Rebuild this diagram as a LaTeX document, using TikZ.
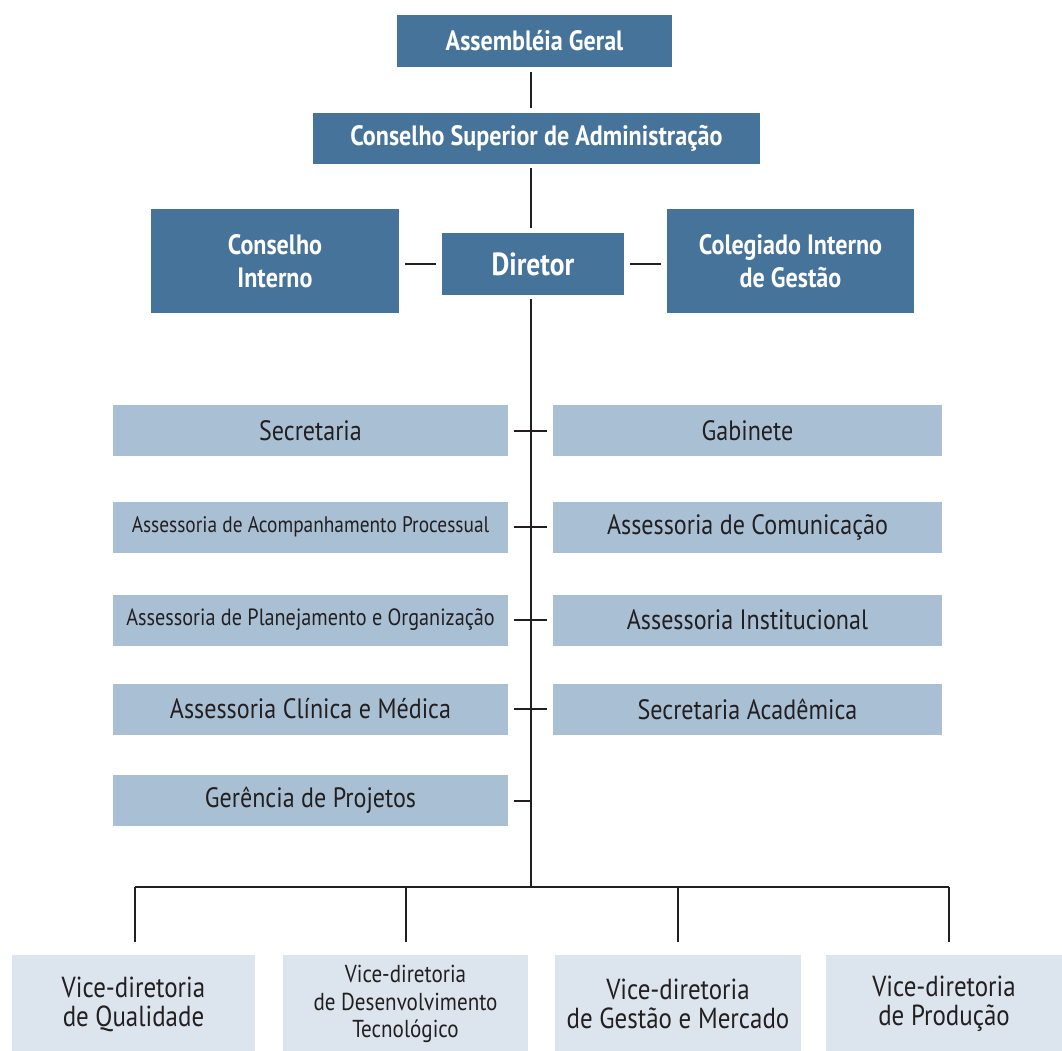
\documentclass[tikz,border=0pt]{standalone}
\usepackage{fontspec}
\setmainfont{PT Sans}[FakeStretch=0.86]
\usetikzlibrary{positioning}

\definecolor{darkbox}{HTML}{46739A}
\definecolor{lightbox}{HTML}{A9C0D4}
\definecolor{palebox}{HTML}{DCE5EE}
\definecolor{ink}{HTML}{231F20}

\tikzset{
  headbox/.style={fill=darkbox, text=white, inner sep=0pt, align=center,
    font=\fontsize{28}{33}\selectfont\bfseries},
  staffbox/.style={fill=lightbox, text=ink, inner sep=0pt, minimum height=51pt,
    font=\fontsize{28}{32}\selectfont},
  vicebox/.style={fill=palebox, text=ink, inner sep=0pt, align=center,
    minimum height=98pt, font=\fontsize{29}{29}\selectfont},
  link/.style={draw=ink, line width=2pt}
}

\begin{document}
\begin{tikzpicture}[x=1pt,y=-1pt]
    \useasboundingbox[fill=white] (0,0) rectangle (1062,1051);

    % top of the chart
    \node[headbox, minimum width=275pt, minimum height=52pt] (ag) at (534.5,41) {Assembléia Geral};
    \node[headbox, minimum width=447pt, minimum height=51pt] (csa) at (536.5,138.5) {Conselho Superior de Administração};
    \node[headbox, minimum width=182pt, minimum height=62pt, font=\fontsize{32}{36}\selectfont\bfseries] (dir) at (533,264) {Diretor};
    \node[headbox, minimum width=248pt, minimum height=104pt] (ci) at (275,261) {Conselho\\Interno};
    \node[headbox, minimum width=247pt, minimum height=104pt] (cig) at (790.5,261) {Colegiado Interno\\de Gestão};

    \coordinate (bus) at (531,887);

    % staff, left column
    \node[staffbox, minimum width=395pt] (sec) at (310.5,430.5) {Secretaria};
    \node[staffbox, minimum width=395pt, font=\fontsize{22.5}{26}\selectfont] (aap) at (310.5,527) {Assessoria de Acompanhamento Processual};
    \node[staffbox, minimum width=395pt, font=\fontsize{23.5}{26}\selectfont] (apo) at (310.5,620) {Assessoria de Planejamento e Organização};
    \node[staffbox, minimum width=395pt] (acm) at (310.5,709) {Assessoria Clínica e Médica};
    \node[staffbox, minimum width=395pt] (gp) at (310.5,800.5) {Gerência de Projetos};

    % staff, right column
    \node[staffbox, minimum width=389pt] (gab) at (747.5,430.5) {Gabinete};
    \node[staffbox, minimum width=389pt] (acom) at (747.5,527) {Assessoria de Comunicação};
    \node[staffbox, minimum width=389pt] (ai) at (747.5,620) {Assessoria Institucional};
    \node[staffbox, minimum width=389pt] (sa) at (747.5,709) {Secretaria Acadêmica};

    % vice-diretorias
    \node[vicebox, minimum width=243pt] (vq) at (133.5,1004) {Vice-diretoria\\de Qualidade};
    \node[vicebox, minimum width=245pt, font=\fontsize{24.5}{27.5}\selectfont] (vdt) at (405.5,1004) {Vice-diretoria\\de Desenvolvimento\\Tecnológico};
    \node[vicebox, minimum width=246pt] (vgm) at (678,1004) {Vice-diretoria\\de Gestão e Mercado};
    \node[vicebox, minimum width=236pt] (vp) at (944,1004) {Vice-diretoria\\de Produção};

    % connectors
    \draw[link] ([yshift=-5pt]ag.south -| bus) -- ([yshift=5pt]csa.north -| bus);
    \draw[link] ([yshift=-4pt]csa.south -| bus) -- ([yshift=5pt]dir.north -| bus);
    \draw[link] ([xshift=6pt]ci.east |- dir.west) -- ([xshift=-6pt]dir.west);
    \draw[link] ([xshift=6pt]dir.east) -- ([xshift=-6pt]cig.west |- dir.east);
    \draw[link] ([yshift=-4pt]dir.south -| bus) -- (bus);

    \draw[link] ([xshift=6pt]sec.east) -- ([xshift=-6pt]gab.west);
    \draw[link] ([xshift=6pt]aap.east) -- ([xshift=-6pt]acom.west);
    \draw[link] ([xshift=6pt]apo.east) -- ([xshift=-6pt]ai.west);
    \draw[link] ([xshift=6pt]acm.east) -- ([xshift=-6pt]sa.west);
    \draw[link] ([xshift=6pt]gp.east) -- (gp.east -| bus);

    \draw[link] ([xshift=1.5pt]vq.north |- bus) -- ([xshift=5pt]vp.north |- bus);
    \draw[link] ([xshift=1.5pt]vq.north |- bus) -- ([xshift=1.5pt,yshift=13pt]vq.north);
    \draw[link] ([xshift=0.5pt]vdt.north |- bus) -- ([xshift=0.5pt,yshift=13pt]vdt.north);
    \draw[link] (vgm.north |- bus) -- ([yshift=13pt]vgm.north);
    \draw[link] ([xshift=5pt]vp.north |- bus) -- ([xshift=5pt,yshift=13pt]vp.north);
\end{tikzpicture}
\end{document}
